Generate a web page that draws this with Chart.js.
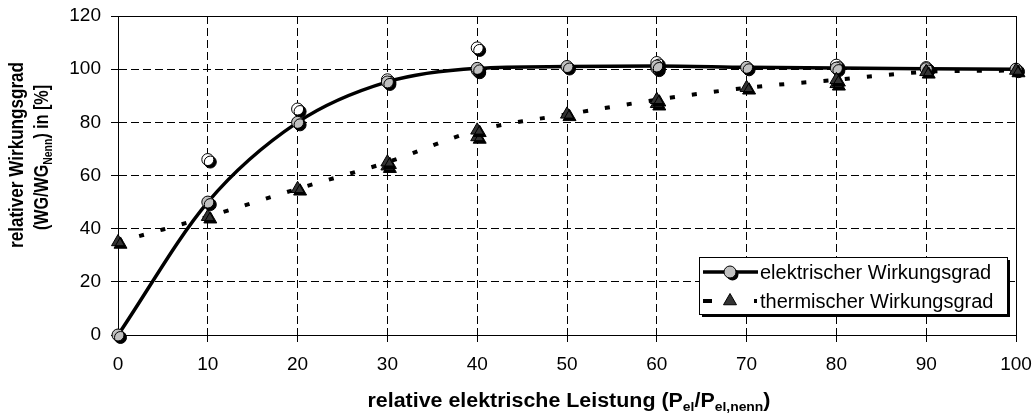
<!DOCTYPE html>
<html><head><meta charset="utf-8">
<script src="https://cdn.jsdelivr.net/npm/chart.js@4/dist/chart.umd.min.js"></script>
<style>html,body{margin:0;padding:0;background:#fff;}#wrap{width:1036px;height:417px;}</style>
</head><body><div id="wrap"><canvas id="c" width="1036" height="417"></canvas></div>
<script>
// ---- data ----
const xValues = [0, 10, 20, 30, 40, 50, 60, 70, 80, 90, 100];
const elecValues = [0, 50, 80, 95.2, 100.3, 101, 101.2, 100.7, 100.4, 100.2, 100];
const thermValues = [35, 44.5, 55, 65, 77, 83, 88.5, 93, 96, 99, 99.5];
const elecExtraX = [40, 60];
const elecExtraValues = [99.6, 100.4];
const hollowX = [10, 20, 30, 40, 60, 80, 90];
const hollowValues = [66, 85, 96, 108, 102.5, 101.5, 100.6];
const thermExtraX = [30, 40, 60, 80];
const thermExtraValues = [63.5, 74.5, 87, 94.5];
const xTicks = [0, 10, 20, 30, 40, 50, 60, 70, 80, 90, 100];
const yTicks = [0, 20, 40, 60, 80, 100, 120];
const seriesNames = ['elektrischer Wirkungsgrad', 'thermischer Wirkungsgrad'];
const xTitleParts = [['relative elektrische Leistung (P', 0], ['el', 1], ['/P', 0], ['el,nenn', 1], [')', 0]];
const yTitle1 = [['relativer Wirkungsgrad', 0]];
const yTitle2 = [['(WG/WG', 0], ['Nenn', 1], [') in [%]', 0]];

const FONT = 'Arial, "Liberation Sans", sans-serif';
const pts = (xs, ys) => xs.map((x, i) => ({x: x, y: ys[i]}));

const GRAY = '#c0c0c0';
const DARK = '#333333';

function richWidth(ctx, parts, size) {
  let w = 0;
  for (const [t, sub] of parts) {
    ctx.font = 'bold ' + (sub ? Math.round(size * 0.65) : size) + 'px ' + FONT;
    w += ctx.measureText(t).width;
  }
  return w;
}
function drawRich(ctx, parts, cx, cy, size, targetW, rot) {
  const w = richWidth(ctx, parts, size);
  ctx.save();
  ctx.translate(cx, cy);
  if (rot) ctx.rotate(rot);
  ctx.scale(targetW / w, 1);
  ctx.fillStyle = '#000';
  ctx.textBaseline = 'alphabetic';
  ctx.textAlign = 'left';
  let x = -w / 2;
  for (const [t, sub] of parts) {
    ctx.font = 'bold ' + (sub ? Math.round(size * 0.65) : size) + 'px ' + FONT;
    ctx.fillText(t, x, sub ? size * 0.22 : 0);
    x += ctx.measureText(t).width;
  }
  ctx.restore();
}

function shadowOn(ctx) {
  ctx.shadowColor = '#000';
  ctx.shadowOffsetX = 2.5;
  ctx.shadowOffsetY = 2.5;
  ctx.shadowBlur = 0;
}

const extras = {
  id: 'extras',
  beforeDatasetsDraw(chart) {
    const {ctx, chartArea: a} = chart;
    ctx.save();
    ctx.strokeStyle = '#000';
    ctx.lineWidth = 1;
    ctx.strokeRect(Math.round(a.left) + 0.5, Math.round(a.top) + 0.5, Math.round(a.right - a.left), Math.round(a.bottom - a.top));
    ctx.restore();
  },
  beforeDatasetDraw(chart, args) {
    const ds = chart.data.datasets[args.index];
    chart.ctx.save();
    if (ds.shadow) shadowOn(chart.ctx);
  },
  afterDatasetDraw(chart) {
    chart.ctx.restore();
  },
  afterDraw(chart) {
    const ctx = chart.ctx;
    // axis titles
    drawRich(ctx, xTitleParts, 569, 407, 20, 403, 0);
    drawRich(ctx, yTitle1, 23, 155, 20, 186, -Math.PI / 2);
    drawRich(ctx, yTitle2, 48, 157.5, 20, 145, -Math.PI / 2);
    // legend
    const L = 699, T = 257, R = 1007, B = 314;
    ctx.save();
    ctx.fillStyle = '#000';
    ctx.fillRect(L + 3, T + 3, R - L, B - T);
    ctx.fillStyle = '#fff';
    ctx.fillRect(L, T, R - L, B - T);
    ctx.strokeStyle = '#000';
    ctx.lineWidth = 1;
    ctx.strokeRect(L + 0.5, T + 0.5, R - L, B - T);
    const y1 = 272, y2 = 301;
    ctx.lineWidth = 3.5;
    ctx.beginPath(); ctx.moveTo(703, y1); ctx.lineTo(758, y1); ctx.stroke();
    ctx.lineWidth = 4;
    ctx.beginPath(); ctx.moveTo(703, y2); ctx.lineTo(712, y2); ctx.moveTo(754, y2); ctx.lineTo(757, y2); ctx.stroke();
    ctx.save();
    shadowOn(ctx);
    ctx.fillStyle = GRAY;
    ctx.beginPath(); ctx.arc(730, y1, 6, 0, Math.PI * 2); ctx.fill();
    ctx.restore();
    ctx.lineWidth = 1;
    ctx.beginPath(); ctx.arc(730, y1, 6, 0, Math.PI * 2); ctx.stroke();
    const r = 7.5;
    ctx.fillStyle = DARK;
    ctx.beginPath();
    ctx.moveTo(730, y2 - r);
    ctx.lineTo(730 + r * Math.sin(2 * Math.PI / 3), y2 - r * Math.cos(2 * Math.PI / 3));
    ctx.lineTo(730 + r * Math.sin(4 * Math.PI / 3), y2 - r * Math.cos(4 * Math.PI / 3));
    ctx.closePath(); ctx.fill(); ctx.stroke();
    ctx.fillStyle = '#000';
    ctx.font = '20px ' + FONT;
    ctx.textBaseline = 'middle';
    ctx.textAlign = 'left';
    ctx.fillText(seriesNames[0], 760, y1 + 1);
    ctx.fillText(seriesNames[1], 760, y2 + 1);
    ctx.restore();
  }
};

const tickFont = {family: FONT, size: 19};

new Chart(document.getElementById('c'), {
  type: 'scatter',
  data: {
    datasets: [
      {label: seriesNames[0], data: pts(xValues, elecValues), showLine: true, borderColor: '#000', borderWidth: 3.5,
       pointRadius: 0, cubicInterpolationMode: 'monotone', fill: false, order: 10, clip: false},
      {label: seriesNames[1], data: pts(xValues, thermValues), showLine: true, borderColor: '#000', borderWidth: 4,
       borderDash: [5, 17], borderCapStyle: 'butt', pointRadius: 0, tension: 0.3, fill: false, order: 9, clip: false},
      {label: 'hollow', data: pts(hollowX, hollowValues), showLine: false, pointRadius: 6, pointBackgroundColor: '#fff',
       pointBorderColor: '#000', pointBorderWidth: 1, order: 5, shadow: true, clip: false},
      {label: 'therm extra', data: pts(thermExtraX, thermExtraValues), showLine: false, pointStyle: 'triangle', pointRadius: 7.5,
       pointBackgroundColor: DARK, pointBorderColor: '#000', pointBorderWidth: 1, order: 4, shadow: true, clip: false},
      {label: 'elec extra', data: pts(elecExtraX, elecExtraValues), showLine: false, pointRadius: 6, pointBackgroundColor: GRAY,
       pointBorderColor: '#000', pointBorderWidth: 1, order: 3, shadow: true, clip: false},
      {label: 'elec pts', data: pts(xValues, elecValues), showLine: false, pointRadius: 6, pointBackgroundColor: GRAY,
       pointBorderColor: '#000', pointBorderWidth: 1, order: 2, shadow: true, clip: false},
      {label: 'therm pts', data: pts(xValues, thermValues), showLine: false, pointStyle: 'triangle', pointRadius: 7.5,
       pointBackgroundColor: DARK, pointBorderColor: '#000', pointBorderWidth: 1, order: 1, shadow: true, clip: false}
    ]
  },
  options: {
    responsive: false,
    animation: false,
    devicePixelRatio: 1,
    layout: {padding: {left: 0, top: 16, right: 20, bottom: 0}},
    plugins: {legend: {display: false}, tooltip: {enabled: false}, title: {display: false}},
    scales: {
      x: {
        type: 'linear', min: 0, max: 100,
        afterBuildTicks: s => { s.ticks = xTicks.map(v => ({value: v})); },
        afterFit: s => { s.height = 82; s.paddingLeft = 0; s.paddingRight = 0; },
        grid: {color: '#000', lineWidth: 1, tickLength: 7, drawTicks: true},
        border: {display: true, color: '#000', width: 1, dash: [8, 4]},
        ticks: {font: tickFont, color: '#000', padding: 11, maxRotation: 0, autoSkip: false}
      },
      y: {
        type: 'linear', min: 0, max: 120,
        afterBuildTicks: s => { s.ticks = yTicks.map(v => ({value: v})); },
        afterFit: s => { s.width = 118; s.paddingTop = 0; s.paddingBottom = 0; },
        grid: {color: '#000', lineWidth: 1, tickLength: 7, drawTicks: true},
        border: {display: true, color: '#000', width: 1, dash: [8, 4]},
        ticks: {font: tickFont, color: '#000', padding: 10, autoSkip: false}
      }
    }
  },
  plugins: [extras]
});
</script>
</body></html>
